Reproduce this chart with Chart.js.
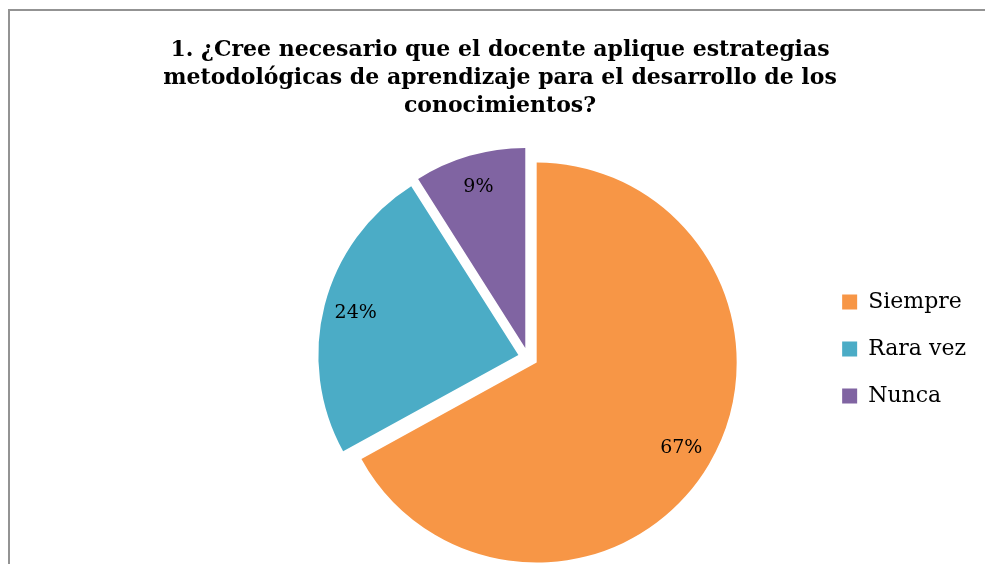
<!DOCTYPE html>
<html>
<head>
<meta charset="utf-8">
<script src="https://cdn.jsdelivr.net/npm/chart.js@4.4.1/dist/chart.umd.min.js"></script>
<style>
    html, body { margin: 0; padding: 0; background: #fff; overflow: hidden; }
    #wrap { position: relative; width: 985px; height: 564px; }
    #myChart { position: absolute; left: 0; top: 0; }
    #frame {
        position: absolute; left: 8px; top: 9px; width: 1000px; height: 600px;
        border-left: 2px solid #939393; border-top: 2px solid #939393;
        pointer-events: none;
    }
</style>
</head>
<body>
<div id="wrap">
    <canvas id="myChart" width="985" height="564"></canvas>
    <div id="frame"></div>
</div>
<script>
// data
let labels = ['Siempre', 'Rara vez', 'Nunca'];
let values = [67, 24, 9];
let colors = ['#F79646', '#4BACC6', '#8064A2'];
let titleLines = [
    '1. ¿Cree necesario que el docente aplique estrategias',
    'metodológicas de aprendizaje para el desarrollo de los',
    'conocimientos?'
];

let explode = 10;      // px each slice is pulled out
let labelPos = 0.84;   // label distance, fraction of radius

const pieExtras = {
    id: 'pieExtras',
    afterLayout(chart) {
        // keep the title centred on the whole frame, not on the padded area
        chart.titleBlock.left = 15;
        chart.titleBlock.right = 985;
    },
    afterUpdate(chart) {
        // exploded slices: move every arc out along its bisector
        chart.getDatasetMeta(0).data.forEach(arc => {
            const mid = (arc.startAngle + arc.endAngle) / 2;
            arc.x += Math.cos(mid) * explode;
            arc.y += Math.sin(mid) * explode;
        });
    },
    afterDatasetsDraw(chart) {
        const ctx = chart.ctx;
        const total = values.reduce((a, b) => a + b, 0);
        ctx.save();
        ctx.font = '19px "DejaVu Serif"';
        ctx.fillStyle = '#000';
        ctx.textAlign = 'center';
        ctx.textBaseline = 'middle';
        chart.getDatasetMeta(0).data.forEach((arc, i) => {
            const mid = (arc.startAngle + arc.endAngle) / 2;
            const r = arc.outerRadius * labelPos;
            const pct = Math.round(values[i] / total * 100) + '%';
            ctx.fillText(pct, arc.x + Math.cos(mid) * r, arc.y + Math.sin(mid) * r);
        });
        ctx.restore();
    }
};

const config = {
    type: 'pie',
    data: {
        labels: labels,
        datasets: [{
            data: values,
            backgroundColor: colors,
            borderWidth: 0
        }]
    },
    options: {
        responsive: false,
        animation: false,
        events: [],
        radius: 200,
        layout: { padding: { left: 239, right: 9, top: 0, bottom: 0 } },
        plugins: {
            title: {
                display: true,
                text: titleLines,
                color: '#000',
                font: { family: '"DejaVu Serif"', size: 22, weight: 'bold', lineHeight: '28px' },
                padding: { top: 36, bottom: 31 }
            },
            legend: {
                position: 'right',
                fullSize: false,
                // empty title, only used to lift the items a little
                title: { display: true, text: '', font: { size: 10, lineHeight: '12px' }, padding: { top: -29, bottom: 0 } },
                labels: {
                    color: '#000',
                    font: { family: '"DejaVu Serif"', size: 22, lineHeight: 1.2 },
                    boxWidth: 15,
                    boxHeight: 15,
                    padding: 25
                }
            },
            tooltip: { enabled: false }
        }
    },
    plugins: [pieExtras]
};

let chart = new Chart(document.getElementById('myChart'), config);
</script>
</body>
</html>
